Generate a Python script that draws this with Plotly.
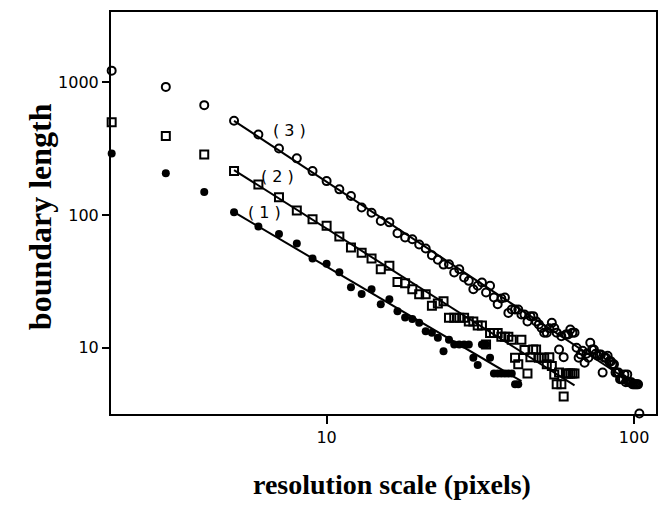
import math
import plotly.graph_objects as go

# ---- data ----
s1_x = [2, 3, 4, 5, 6, 7, 8, 9, 10, 11, 12, 13, 14, 15, 16, 17, 18, 19, 20, 21, 22,
        23, 24, 25, 26, 27, 28, 29, 30, 31, 32, 33, 34, 35, 36, 37, 38, 39, 40, 41, 42]
s1_y = [290, 206, 149, 105, 82, 72, 61, 47, 43, 37, 28.5, 25.4, 27.6, 21.3, 23.2, 18.8,
        16.9, 16.5, 15.4, 13.3, 13, 11.9, 9.4, 11.5, 10.6, 10.6, 10.6, 10.6, 8.4, 7.4,
        10.6, 10.6, 8.4, 6.4, 6.4, 6.4, 6.4, 6.4, 6.4, 5.3, 5.3]

s2_x = [2, 3, 4, 5, 6, 7, 8, 9, 10, 11, 12, 13, 14, 15, 16, 17, 18, 19, 20, 21, 22,
        23, 24, 25, 26, 27, 28, 29, 30, 31, 32, 33, 34, 35, 36, 37, 38, 39, 40, 41, 42,
        43, 44, 45, 46, 47, 48, 49, 50, 51, 52, 53, 54, 55, 56, 57, 58, 59, 60, 61, 62,
        63, 64]
s2_y = [500, 393, 286, 214, 170, 136, 108, 93, 83, 69, 57, 52, 47, 39, 41.4, 31.3, 30.6,
        27.6, 25.3, 25.3, 20.7, 21.5, 22.4, 16.8, 16.8, 16.8, 16.8, 15.8, 15.8, 14.7,
        14.7, 10.6, 12.9, 12.9, 12.9, 12.1, 12.1, 12.1, 11.5, 8.4, 7.5, 11.5, 9.6, 6.4,
        8.5, 9.7, 9.7, 8.4, 8.4, 8.4, 7.5, 8.5, 7.3, 6.3, 5.3, 6.5, 5.3, 4.3, 6.4, 6.4,
        6.4, 6.4, 6.4]

s3_x = [2, 3, 4, 5, 6, 7, 8, 9, 10, 11, 12, 13, 14, 15, 16, 17, 18, 19, 20, 21, 22,
        23, 24, 25, 26, 27, 28, 29, 30, 31, 32, 33, 34, 35, 36, 37, 38, 39, 40, 41, 42,
        43, 44, 45, 46, 47, 48, 49, 50, 51, 52, 53, 54, 55, 56, 57, 58, 59, 60, 61, 62,
        63, 64, 65, 66, 67, 68, 69, 70, 71, 72, 73, 74, 75, 76, 77, 78, 79, 80, 81, 82,
        83, 84, 85, 86, 87, 88, 89, 90, 91, 92, 93, 94, 95, 96, 97, 98, 99, 100, 101,
        102, 103, 104]
s3_y = [1222, 922, 672, 512, 404, 317, 267, 214, 180, 156, 139, 114, 104, 90, 88, 73,
        67.6, 65.7, 60, 55.9, 49.8, 46, 42.3, 42.6, 36.9, 39, 33.8, 31.9, 27.6, 29.3, 31,
        26.1, 29.3, 23.9, 21.3, 23.5, 23.9, 18.3, 19.4, 19.4, 19.4, 17.8, 17.8, 15.8,
        17.3, 17.3, 15.8, 15, 14.1, 13, 13, 14, 15.4, 14.1, 13, 9.7, 12.2, 8.5, 12.6,
        12.6, 13.7, 13, 13, 10, 8.4, 8.9, 9.5, 7.7, 9, 8.4, 10.9, 9.7, 9.7, 9, 8.7, 8.9,
        8.9, 6.5, 8.4, 8.4, 8.7, 7.9, 7.9, 7.5, 7.5, 6.5, 6.5, 6.5, 5.8, 5.8, 5.8, 6.3,
        5.5, 6.3, 5.5, 5.5, 5.5, 5.3, 5.3, 5.3, 5.3, 5.3, 3.2]

# fitted lines (end points)
fit1_x = [5, 43]
fit1_y = [105, 5.6]
fit2_x = [5, 64]
fit2_y = [218, 5.2]
fit3_x = [5, 104]
fit3_y = [512, 5.0]

labels = ["( 1 )", "( 2 )", "( 3 )"]
label_x = [6.3, 6.93, 7.6]
label_y = [105, 195, 433]

x_ticks = [10, 100]
y_ticks = [10, 100, 1000]

x_range = [1.99, 117.8]
y_range = [3.17, 3380]

fig = go.Figure()

for fx, fy in [(fit1_x, fit1_y), (fit2_x, fit2_y), (fit3_x, fit3_y)]:
    fig.add_trace(go.Scatter(x=fx, y=fy, mode="lines",
                             line=dict(color="black", width=2),
                             showlegend=False, hoverinfo="skip"))

fig.add_trace(go.Scatter(x=s1_x, y=s1_y, mode="markers", cliponaxis=False,
                         marker=dict(symbol="circle", size=8, color="black",
                                     line=dict(width=0)),
                         showlegend=False))
fig.add_trace(go.Scatter(x=s2_x, y=s2_y, mode="markers", cliponaxis=False,
                         marker=dict(symbol="square-open", size=8, color="black",
                                     line=dict(width=2)),
                         showlegend=False))
fig.add_trace(go.Scatter(x=s3_x, y=s3_y, mode="markers", cliponaxis=False,
                         marker=dict(symbol="circle-open", size=8, color="black",
                                     line=dict(width=2)),
                         showlegend=False))

annotations = []
for t, lx, ly in zip(labels, label_x, label_y):
    annotations.append(dict(x=math.log10(lx), y=math.log10(ly), xref="x", yref="y",
                            text=t, showarrow=False,
                            font=dict(family="DejaVu Sans", size=16, color="black")))

annotations.append(dict(x=-0.13, y=0.49, xref="paper", yref="paper",
                        xanchor="center", yanchor="middle",
                        text="boundary length", textangle=-90, showarrow=False,
                        font=dict(family="Liberation Serif", size=32, color="black",
                                  weight="bold")))
annotations.append(dict(x=0.5155, y=-0.175, xref="paper", yref="paper",
                        xanchor="center", yanchor="middle",
                        text="resolution scale (pixels)", showarrow=False,
                        font=dict(family="Liberation Serif", size=28, color="black",
                                  weight="bold")))

fig.update_layout(
    width=667, height=513,
    margin=dict(l=111, r=9, t=12, b=99),
    paper_bgcolor="white", plot_bgcolor="white",
    annotations=annotations,
    xaxis=dict(type="log", range=[math.log10(v) for v in x_range],
               tickvals=x_ticks, ticktext=[str(v) for v in x_ticks],
               ticks="outside", ticklen=8, tickwidth=2, tickcolor="black",
               showline=True, linecolor="black", linewidth=2, mirror=True,
               showgrid=False, zeroline=False,
               tickfont=dict(family="DejaVu Sans", size=16, color="black")),
    yaxis=dict(type="log", range=[math.log10(v) for v in y_range],
               tickvals=y_ticks, ticktext=[str(v) for v in y_ticks],
               ticks="outside", ticklen=7, tickwidth=2, tickcolor="black",
               showline=True, linecolor="black", linewidth=2, mirror=True,
               showgrid=False, zeroline=False,
               tickfont=dict(family="DejaVu Sans", size=16, color="black")),
)

fig.write_html("out.html")
